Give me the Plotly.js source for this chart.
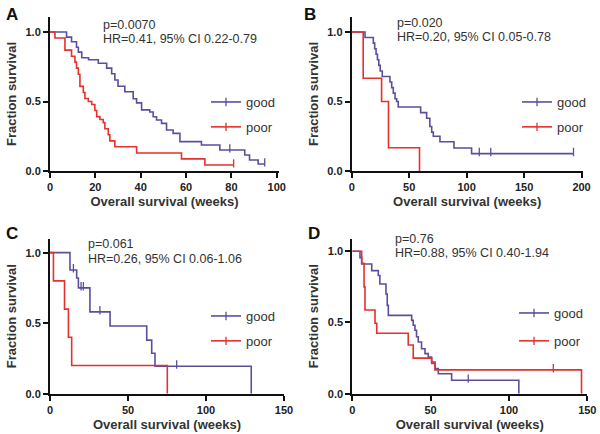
<!DOCTYPE html>
<html><head><meta charset="utf-8">
<script src="https://cdn.plot.ly/plotly-3.0.1.min.js"></script>
<style>html,body{margin:0;padding:0;background:#fff}#c{width:600px;height:434px}</style>
</head><body><div id="c"></div>
<script>
// Panel A
const goodA_t = [0, 7.3, 9.5, 11.7, 12.5, 14, 17, 21.3, 25, 27.2, 28.6, 30, 33, 36.7, 38.2, 40.4, 44, 45.5, 47, 49.2, 51.4, 54.3, 57.3, 66.8, 74.9, 85.9, 88, 91.8, 94.7];
const goodA_s = [1, 0.963, 0.93, 0.89, 0.855, 0.815, 0.80, 0.775, 0.74, 0.70, 0.655, 0.61, 0.57, 0.52, 0.49, 0.44, 0.425, 0.39, 0.367, 0.343, 0.295, 0.271, 0.211, 0.187, 0.151, 0.115, 0.079, 0.05, 0.05];
const goodA_cens_t = [79.3, 94.7];
const goodA_cens_s = [0.151, 0.05];
const poorA_t = [0, 2.2, 6.6, 9.5, 11, 11.7, 12.5, 13.2, 14.7, 15.4, 16.9, 18.4, 19.8, 20.6, 22, 23.5, 24.2, 25.7, 26.4, 28.6, 38.2, 58, 68.3, 81];
const poorA_s = [1, 0.957, 0.87, 0.826, 0.783, 0.74, 0.696, 0.609, 0.565, 0.522, 0.5, 0.478, 0.435, 0.391, 0.37, 0.348, 0.304, 0.261, 0.217, 0.174, 0.13, 0.087, 0.043, 0.043];
const poorA_cens_t = [81];
const poorA_cens_s = [0.043];
// Panel B
const goodB_t = [0, 11.6, 18.8, 20, 21.2, 22.4, 23.6, 24.8, 26.6, 33.3, 34.8, 36.2, 37.7, 39.1, 40.5, 60, 65.2, 68, 69.6, 71, 76.8, 89, 104.3, 193];
const goodB_s = [1, 0.96, 0.92, 0.88, 0.84, 0.80, 0.76, 0.72, 0.68, 0.64, 0.60, 0.56, 0.52, 0.50, 0.46, 0.42, 0.38, 0.32, 0.28, 0.25, 0.21, 0.165, 0.125, 0.125];
const goodB_cens_t = [111, 121, 193];
const goodB_cens_s = [0.125, 0.125, 0.125];
const poorB_t = [0, 10, 26, 32, 59];
const poorB_s = [1, 0.667, 0.5, 0.167, 0];
// Panel C
const goodC_t = [0, 12.8, 17.1, 18.2, 25.6, 38.5, 62, 65.2, 67.3, 129, 129];
const goodC_s = [1, 0.877, 0.82, 0.75, 0.58, 0.48, 0.38, 0.287, 0.195, 0.195, 0];
const goodC_cens_t = [15, 19.9, 21.4, 32, 81.2];
const goodC_cens_s = [0.877, 0.75, 0.75, 0.58, 0.195];
const poorC_t = [0, 2.2, 9.3, 11.8, 13.9, 75.2, 75.2];
const poorC_s = [1, 0.8, 0.6, 0.4, 0.2, 0.2, 0];
// Panel D
const goodD_t = [0, 4.9, 6, 12.4, 16.6, 17.6, 21.5, 22.3, 23, 37.9, 38.9, 40, 41, 42.1, 44.2, 46.4, 48.5, 50.6, 52.8, 54.9, 63.4, 106.3, 106.3];
const goodD_s = [1, 0.955, 0.91, 0.864, 0.83, 0.77, 0.70, 0.62, 0.55, 0.515, 0.48, 0.445, 0.40, 0.363, 0.316, 0.281, 0.257, 0.222, 0.176, 0.14, 0.094, 0.094, 0];
const goodD_cens_t = [74];
const goodD_cens_s = [0.094];
const poorD_t = [0, 6, 7.5, 8.1, 14.5, 15.6, 35.7, 38.9, 50.7, 52.8, 146.3, 146.3];
const poorD_s = [1, 0.915, 0.75, 0.588, 0.494, 0.424, 0.342, 0.25, 0.213, 0.167, 0.167, 0];
const poorD_cens_t = [128.3];
const poorD_cens_s = [0.167];

const groupNames = ['good', 'poor'];
const panelLetters = ['A', 'B', 'C', 'D'];
const pValues = ['p=0.0070', 'p=0.020', 'p=0.061', 'p=0.76'];
const hrTexts = ['HR=0.41, 95% CI 0.22-0.79', 'HR=0.20, 95% CI 0.05-0.78', 'HR=0.26, 95% CI 0.06-1.06', 'HR=0.88, 95% CI 0.40-1.94'];
const xTicksA = [0, 20, 40, 60, 80, 100];
const xTicksB = [0, 50, 100, 150, 200];
const xTicksCD = [0, 50, 100, 150];
const yTicks = [0, 0.5, 1.0];
const yTickLabels = ['0.0', '0.5', '1.0'];

const GOOD = '#5a4f9c', POOR = '#e5312c';
const FONT = 'Arial, "Liberation Sans", sans-serif';

const panels = [
  {g:[goodA_t, goodA_s, goodA_cens_t, goodA_cens_s], p:[poorA_t, poorA_s, poorA_cens_t, poorA_cens_s]},
  {g:[goodB_t, goodB_s, goodB_cens_t, goodB_cens_s], p:[poorB_t, poorB_s, [], []]},
  {g:[goodC_t, goodC_s, goodC_cens_t, goodC_cens_s], p:[poorC_t, poorC_s, [], []]},
  {g:[goodD_t, goodD_s, goodD_cens_t, goodD_cens_s], p:[poorD_t, poorD_s, poorD_cens_t, poorD_cens_s]}
];

const traces = [];
panels.forEach((pn, i) => {
  const sfx = i === 0 ? '' : String(i + 1);
  const xa = 'x' + sfx, ya = 'y' + sfx;
  const lg = 'legend' + sfx;
  [['g', GOOD, groupNames[0]], ['p', POOR, groupNames[1]]].forEach(([k, col, nm]) => {
    const d = pn[k];
    traces.push({x: d[0], y: d[1], xaxis: xa, yaxis: ya, mode: 'lines', line: {shape: 'hv', color: col, width: 1.6}, showlegend: false, hoverinfo: 'skip'});
    if (d[2].length) traces.push({x: d[2], y: d[3].map(v => v + 0.012), xaxis: xa, yaxis: ya, mode: 'markers', marker: {symbol: 'line-ns-open', size: 6, color: col, line: {color: col, width: 1.3}}, showlegend: false, hoverinfo: 'skip'});
    traces.push({x: [null], y: [null], xaxis: xa, yaxis: ya, mode: 'lines+markers', name: nm, legend: lg, legendgroup: nm,
      line: {color: col, width: 1.6}, marker: {symbol: 'line-ns-open', size: 6, color: col, line: {color: col, width: 1.3}}});
  });
});

const axBase = {
  showgrid: false, zeroline: false, showline: true, linecolor: '#111', linewidth: 2,
  ticks: 'outside', ticklen: 5, tickwidth: 2, tickcolor: '#111',
  tickfont: {family: FONT, size: 11, color: '#222', weight: 'bold'}, fixedrange: true
};
function xax(dom, anchor, range, tv) {
  return Object.assign({}, axBase, {domain: dom, anchor: anchor, range: range, tickvals: tv, ticktext: tv.map(String),
    title: {text: 'Overall survival (weeks)', font: {family: FONT, size: 13, color: '#333', weight: 'bold'}, standoff: 5}});
}
function yax(dom, anchor, range) {
  return Object.assign({}, axBase, {domain: dom, anchor: anchor, range: range, tickvals: yTicks, ticktext: yTickLabels,
    title: {text: 'Fraction survival', font: {family: FONT, size: 13, color: '#333', weight: 'bold'}, standoff: 6}});
}

const W = 600, H = 434;
const yTop = [1 - 171/H, 1 - 17/H], yBot = [1 - 393.7/H, 1 - 238.7/H];
const dom = [
  {x: [50/W, 279/W], y: yTop, xr: [0, 101], yr: [0, 1.108], xt: xTicksA},
  {x: [351.7/W, 582.7/W], y: yTop, xr: [0, 201], yr: [0, 1.108], xt: xTicksB},
  {x: [50/W, 284/W], y: yBot, xr: [0, 150], yr: [0, 1.099], xt: xTicksCD},
  {x: [352.3/W, 587.3/W], y: yBot, xr: [0, 150], yr: [0, 1.088], xt: xTicksCD}
];

const layout = {
  width: W, height: H, margin: {l: 0, r: 0, t: 0, b: 0},
  paper_bgcolor: '#fff', plot_bgcolor: 'rgba(0,0,0,0)',
  font: {family: FONT, color: '#333'},
  annotations: [], showlegend: true
};
const legendPos = [
  {x: 206/W, y: 1 - 87/H}, {x: 517/W, y: 1 - 87/H},
  {x: 206/W, y: 1 - 301/H}, {x: 514/W, y: 1 - 298/H}
];
const letterPos = [[4, 3], [302, 3], [4, 222], [306, 222]];
const pPos = [[103, 25], [397, 23.3], [88, 243.7], [395, 238.7]];
const hrPos = [[103, 39.3], [397, 36.7], [88, 259.3], [395, 253]];
dom.forEach((d, i) => {
  const sfx = i === 0 ? '' : String(i + 1);
  layout['xaxis' + sfx] = xax(d.x, 'y' + sfx, d.xr, d.xt);
  layout['yaxis' + sfx] = yax(d.y, 'x' + sfx, d.yr);
  layout['legend' + sfx] = {x: legendPos[i].x, y: legendPos[i].y, xanchor: 'left', yanchor: 'top',
    bgcolor: 'rgba(0,0,0,0)', font: {family: FONT, size: 13, color: '#333'}, tracegroupgap: i === 3 ? 8 : 5, traceorder: 'grouped'};
  layout.annotations.push({xref: 'paper', yref: 'paper', x: letterPos[i][0]/W, y: 1 - letterPos[i][1]/H, xanchor: 'left', yanchor: 'top',
    text: '<b>' + panelLetters[i] + '</b>', showarrow: false, font: {family: FONT, size: 17, color: '#111'}});
  layout.annotations.push({xref: 'paper', yref: 'paper', x: (pPos[i][0] - 2)/W, y: 1 - pPos[i][1]/H, xanchor: 'left', yanchor: 'middle',
    text: pValues[i], showarrow: false, font: {family: FONT, size: 12.5, color: '#333'}});
  layout.annotations.push({xref: 'paper', yref: 'paper', x: (hrPos[i][0] - 2)/W, y: 1 - hrPos[i][1]/H, xanchor: 'left', yanchor: 'middle',
    text: hrTexts[i], showarrow: false, font: {family: FONT, size: 12.5, color: '#333'}});
});

Plotly.newPlot('c', traces, layout, {staticPlot: true, displayModeBar: false});
</script></body></html>
